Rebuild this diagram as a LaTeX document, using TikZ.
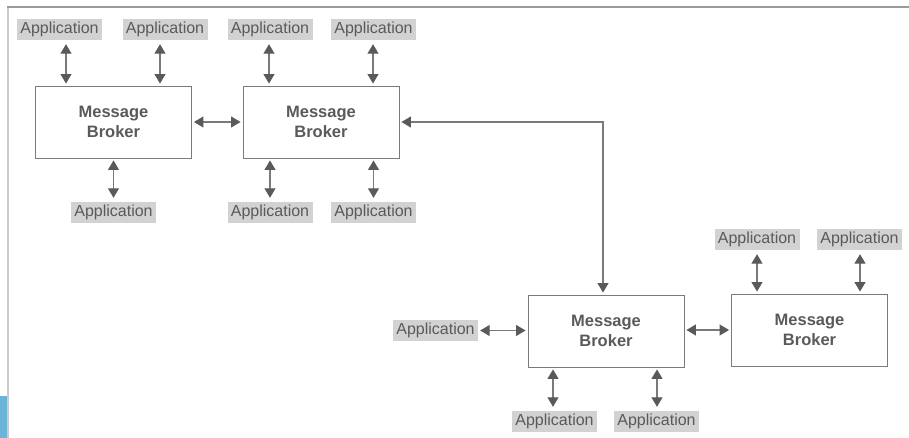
\documentclass[tikz,border=0pt]{standalone}
\usepackage{fontspec}
\setmainfont{Liberation Sans}
\usetikzlibrary{arrows.meta}
\definecolor{inkgrey}{HTML}{5A5A5A}
\definecolor{linegrey}{HTML}{7A7A7A}
\definecolor{labelfill}{HTML}{D2D2D2}
\definecolor{framegrey}{HTML}{9A9A9A}
\definecolor{edgeblue}{HTML}{6CB4D6}
\begin{document}
\begin{tikzpicture}[x=1pt,y=-1pt,
  broker/.style={draw=linegrey,line width=0.9pt,fill=white,minimum width=156pt,minimum height=72pt,
    align=center,font=\fontsize{16.5}{20.5}\selectfont\bfseries,text=inkgrey,inner sep=0pt},
  app/.style={fill=labelfill,minimum width=85pt,minimum height=21pt,inner sep=0pt,
    font=\fontsize{16}{18}\selectfont,text=inkgrey},
  tip/.style={Triangle[width=11pt,length=9.5pt,fill=inkgrey,color=inkgrey]},
  link/.style={draw=linegrey,line width=1.1pt,{Triangle[width=11pt,length=9.5pt,fill=inkgrey,color=inkgrey]}-{Triangle[width=11pt,length=9.5pt,fill=inkgrey,color=inkgrey]}}
]
\useasboundingbox (0,0) rectangle (909,438);
% page frame
\fill[edgeblue] (0,396) rectangle (7,438);
\draw[framegrey!50,line width=2pt] (8,7) -- (8,438);
\draw[framegrey,line width=1.5pt] (7,7) -- (909,7);

% brokers
\node[broker] (b1) at (113.5,122) {Message\\Broker};
\node[broker] (b2) at (321,122) {Message\\Broker};
\node[broker] (b3) at (606,331) {Message\\Broker};
\node[broker] (b4) at (809.5,330) {Message\\Broker};

% applications
\node[app] (a1) at (59.5,29.5) {Application};
\node[app] (a2) at (165,29.5) {Application};
\node[app] (a3) at (270,29.5) {Application};
\node[app] (a4) at (373.5,29.5) {Application};
\node[app] (a5) at (113.5,212.5) {Application};
\node[app] (a6) at (270,212.5) {Application};
\node[app] (a7) at (373.5,212.5) {Application};
\node[app] (a8) at (757,239.5) {Application};
\node[app] (a9) at (859.5,239.5) {Application};
\node[app] (a10) at (435.5,330.5) {Application};
\node[app] (a11) at (554.5,421.5) {Application};
\node[app] (a12) at (656.5,421.5) {Application};

% connector anchor points
\path (a1.south) ++(6.5,0) coordinate (p1);
\path (a2.south) ++(-5,0) coordinate (p2);
\path (a3.south) ++(-1,0) coordinate (p3);
\path (a4.south) ++(-0.5,0) coordinate (p4);
\path (a8.south) coordinate (p8);
\path (a9.south) ++(0.5,0) coordinate (p9);
\path (b3.north) ++(-3,0) coordinate (p3n);

% application links
\begin{scope}[shorten <=4pt,shorten >=2pt]
\draw[link] (p1) -- (p1 |- b1.north);
\draw[link] (p2) -- (p2 |- b1.north);
\draw[link] (p3) -- (p3 |- b2.north);
\draw[link] (p4) -- (p4 |- b2.north);
\draw[link] (p8) -- (p8 |- b4.north);
\draw[link] (p9) -- (p9 |- b4.north);
\end{scope}
\begin{scope}[shorten <=2pt,shorten >=4pt]
\draw[link] (b1.south) -- (a5.north);
\draw[link] (a6.north |- b2.south) -- (a6.north);
\draw[link] (a7.north |- b2.south) -- (a7.north);
\draw[link] ([xshift=-1.5pt]a11.north |- b3.south) -- ([xshift=-1.5pt]a11.north);
\draw[link] ([xshift=0.5pt]a12.north |- b3.south) -- ([xshift=0.5pt]a12.north);
\end{scope}
\draw[link,shorten <=2pt,shorten >=2pt] (a10.east) -- (b3.west |- a10.east);

% broker links
\draw[link,shorten <=2pt,shorten >=2pt] (b1.east) -- (b2.west);
\draw[link,shorten <=2pt,shorten >=2pt] (b3.east |- b4.west) -- (b4.west);
\draw[link,shorten <=2pt,shorten >=2pt] (b2.east) -| (p3n);
\end{tikzpicture}
\end{document}
